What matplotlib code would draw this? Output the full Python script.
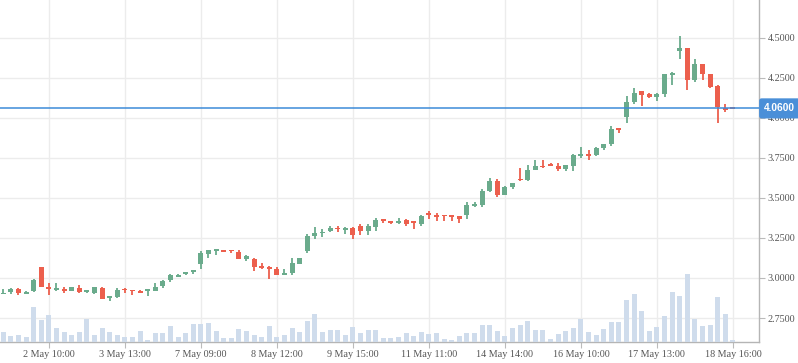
import matplotlib
matplotlib.use("Agg")
import matplotlib.pyplot as plt
from matplotlib.transforms import blended_transform_factory

# candle data, one entry per period
opens = [2.898, 2.915, 2.931, 2.902, 2.921, 3.069, 2.944, 2.925, 2.931, 2.921,
         2.938, 2.913, 2.908, 2.938, 2.877, 2.881, 2.927, 2.921, 2.921, 2.921,
         2.921, 2.950, 2.990, 3.008, 3.027, 3.040, 3.088, 3.152, 3.171, 3.171,
         3.175, 3.163, 3.121, 3.119, 3.069, 3.065, 3.056, 3.021, 3.033, 3.090,
         3.169, 3.263, 3.281, 3.294, 3.308, 3.302, 3.313, 3.325, 3.296, 3.321,
         3.369, 3.356, 3.346, 3.363, 3.348, 3.338, 3.400, 3.394, 3.390, 3.388,
         3.388, 3.396, 3.452, 3.456, 3.544, 3.606, 3.519, 3.569, 3.619, 3.613,
         3.675, 3.700, 3.706, 3.700, 3.681, 3.700, 3.765, 3.777, 3.769, 3.813,
         3.838, 3.931, 4.006, 4.100, 4.169, 4.150, 4.131, 4.150, 4.269, 4.419,
         4.438, 4.238, 4.338, 4.275, 4.200, 4.058, 4.062]
highs = [2.929, 2.940, 2.940, 2.919, 2.996, 3.069, 2.969, 2.969, 2.944, 2.944,
         2.956, 2.925, 2.944, 2.944, 2.888, 2.938, 2.940, 2.921, 2.925, 2.925,
         2.969, 2.990, 3.027, 3.025, 3.038, 3.046, 3.169, 3.175, 3.175, 3.175,
         3.175, 3.175, 3.142, 3.125, 3.094, 3.075, 3.067, 3.056, 3.125, 3.125,
         3.275, 3.319, 3.306, 3.325, 3.325, 3.319, 3.319, 3.338, 3.338, 3.375,
         3.369, 3.356, 3.375, 3.369, 3.356, 3.394, 3.419, 3.406, 3.394, 3.388,
         3.388, 3.475, 3.475, 3.556, 3.625, 3.619, 3.575, 3.594, 3.688, 3.706,
         3.738, 3.738, 3.719, 3.719, 3.706, 3.775, 3.819, 3.800, 3.819, 3.838,
         3.950, 3.938, 4.138, 4.188, 4.169, 4.156, 4.156, 4.275, 4.288, 4.513,
         4.438, 4.369, 4.338, 4.275, 4.206, 4.088, 4.062]
lows = [2.898, 2.898, 2.896, 2.898, 2.910, 2.946, 2.896, 2.921, 2.908, 2.921,
        2.906, 2.908, 2.898, 2.869, 2.858, 2.877, 2.908, 2.896, 2.908, 2.890,
        2.921, 2.940, 2.977, 3.006, 3.021, 3.025, 3.056, 3.127, 3.146, 3.165,
        3.158, 3.121, 3.108, 3.046, 3.056, 2.996, 3.021, 3.021, 3.021, 3.090,
        3.158, 3.244, 3.256, 3.288, 3.288, 3.275, 3.244, 3.269, 3.271, 3.296,
        3.344, 3.335, 3.340, 3.327, 3.308, 3.327, 3.371, 3.358, 3.358, 3.358,
        3.346, 3.371, 3.446, 3.446, 3.538, 3.506, 3.519, 3.556, 3.606, 3.606,
        3.675, 3.690, 3.702, 3.671, 3.671, 3.671, 3.752, 3.740, 3.765, 3.800,
        3.825, 3.906, 3.969, 4.088, 4.075, 4.125, 4.106, 4.131, 4.206, 4.369,
        4.175, 4.225, 4.238, 4.188, 3.969, 4.038, 4.058]
closes = [2.908, 2.931, 2.908, 2.913, 2.985, 2.946, 2.931, 2.938, 2.921, 2.944,
          2.913, 2.925, 2.944, 2.869, 2.888, 2.925, 2.923, 2.917, 2.908, 2.925,
          2.944, 2.981, 3.019, 3.019, 3.031, 3.044, 3.156, 3.175, 3.175, 3.165,
          3.169, 3.121, 3.135, 3.071, 3.065, 3.058, 3.021, 3.031, 3.094, 3.125,
          3.263, 3.281, 3.288, 3.313, 3.306, 3.313, 3.269, 3.294, 3.325, 3.363,
          3.356, 3.346, 3.356, 3.338, 3.346, 3.388, 3.396, 3.383, 3.388, 3.383,
          3.371, 3.456, 3.458, 3.544, 3.606, 3.519, 3.569, 3.594, 3.613, 3.675,
          3.700, 3.694, 3.702, 3.681, 3.706, 3.769, 3.775, 3.765, 3.813, 3.838,
          3.931, 3.927, 4.100, 4.156, 4.144, 4.131, 4.150, 4.275, 4.281, 4.438,
          4.238, 4.338, 4.275, 4.194, 4.069, 4.052, 4.058]
volumes = [10, 6, 7, 5, 35, 22, 27, 14, 10, 7, 10, 23, 7, 14, 10, 7, 5,
           5, 11, 2, 9, 9, 16, 5, 9, 18, 18, 19, 11, 4, 4, 13,
           11, 7, 5, 16, 5, 7, 14, 10, 21, 28, 10, 12, 12, 7, 15, 9,
           12, 12, 4, 4, 5, 9, 6, 10, 8, 9, 3, 2, 6, 9, 9, 17,
           17, 11, 6, 14, 17, 21, 12, 12, 3, 8, 11, 14, 23, 10, 7, 13,
           20, 20, 42, 48, 31, 11, 15, 26, 50, 46, 68, 23, 16, 17, 45, 28, 2]

tick_positions = [6, 16, 26, 36, 46, 56, 66, 76, 86, 96]
tick_labels = ["2 May 10:00", "3 May 13:00", "7 May 09:00", "8 May 12:00",
               "9 May 15:00", "11 May 11:00", "14 May 14:00", "16 May 10:00",
               "17 May 13:00", "18 May 16:00"]
price_ticks = [2.75, 3.0, 3.25, 3.5, 3.75, 4.0, 4.25, 4.5]
last_price = 4.06

up_color = "#6aab8c"
down_color = "#ec5f4d"
vol_color = "#cfdcec"
grid_color = "#ececec"
label_color = "#555555"

fig = plt.figure(figsize=(7.98, 3.63), dpi=100)
ax = fig.add_axes([0, 21 / 363, 759 / 798, 342 / 363])

# volume panel on its own scale, sharing the x axis (drawn over the grid)
vax = ax.twinx()
vax.set_ylim(0, 342)
vax.set_yticks([])
for side in vax.spines:
    vax.spines[side].set_visible(False)

x = list(range(len(opens)))
colors = [up_color if c >= o else down_color for o, c in zip(opens, closes)]
bottoms = [min(o, c) for o, c in zip(opens, closes)]
heights = [max(abs(c - o), 0.008) for o, c in zip(opens, closes)]

vax.bar(x, volumes, width=0.66, color=vol_color, zorder=1)

ax.vlines(x, lows, highs, colors=colors, linewidth=1.3, zorder=3)
ax.bar(x, heights, bottom=bottoms, width=0.66, color=colors, zorder=4)
ax.axhline(last_price, color="#3d8bd8", linewidth=1.1, zorder=5)

ax.set_xlim(-0.43, 99.43)
ax.set_ylim(2.6, 4.7375)

ax.yaxis.tick_right()
ax.yaxis.set_label_position("right")
ax.set_yticks(price_ticks)
ax.set_yticklabels([f"{p:.4f}" for p in price_ticks])
ax.set_xticks(tick_positions)
ax.set_xticklabels(tick_labels)

for lab in ax.get_xticklabels() + ax.get_yticklabels():
    lab.set_fontfamily("Liberation Serif")
    lab.set_fontsize(7.3)
    lab.set_color(label_color)

ax.tick_params(axis="both", length=4, width=0.8, color="#bbbbbb", pad=2)
ax.grid(True, color=grid_color, linewidth=1)
ax.set_axisbelow(True)

for side in ["left", "top"]:
    ax.spines[side].set_visible(False)
for side in ["right", "bottom"]:
    ax.spines[side].set_color("#b5b5b5")
    ax.spines[side].set_linewidth(1)

trans = blended_transform_factory(vax.transAxes, ax.transData)
vax.text(1.0068, last_price, f"{last_price:.4f}", transform=trans,
         ha="left", va="center", color="white", fontsize=7.3,
         fontweight="bold", family="Liberation Sans", clip_on=False, zorder=10,
         bbox=dict(boxstyle="round,pad=0.5,rounding_size=0.25",
                   facecolor="#4a8fd8", edgecolor="none"))

fig.savefig("out.png", dpi=100)
